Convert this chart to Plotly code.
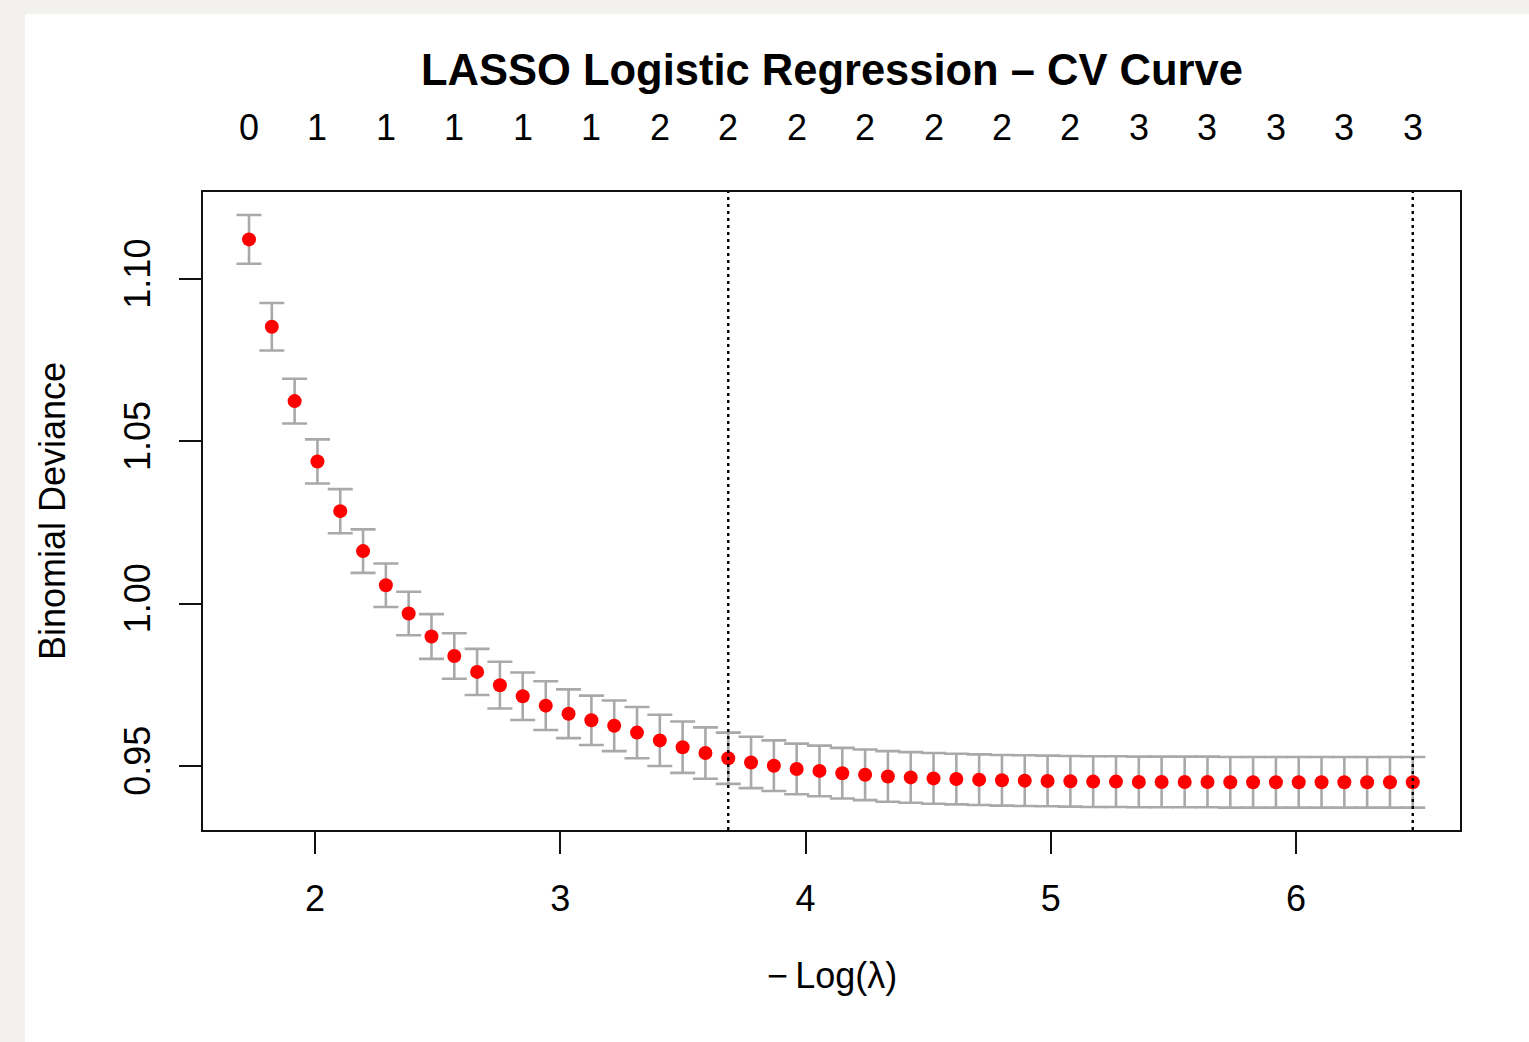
import plotly.graph_objects as go

# -log(lambda) values of the 52 fits
neg_log_lambda = [1.731, 1.824, 1.917, 2.010, 2.103, 2.196, 2.289, 2.382, 2.475, 2.568,
                  2.661, 2.754, 2.847, 2.941, 3.034, 3.127, 3.220, 3.313, 3.406, 3.499,
                  3.592, 3.685, 3.778, 3.871, 3.964, 4.057, 4.150, 4.243, 4.336, 4.429,
                  4.522, 4.615, 4.708, 4.801, 4.894, 4.987, 5.080, 5.173, 5.266, 5.359,
                  5.452, 5.546, 5.639, 5.732, 5.825, 5.918, 6.011, 6.104, 6.197, 6.290,
                  6.383, 6.476]

# mean cross-validated binomial deviance
cv_mean = [1.1122, 1.0853, 1.0624, 1.0438, 1.0285, 1.0162, 1.0057, 0.9970, 0.9899, 0.9839,
           0.9790, 0.9749, 0.9715, 0.9686, 0.9661, 0.9641, 0.9624, 0.9603, 0.9579, 0.9558,
           0.9540, 0.9524, 0.9511, 0.9501, 0.9491, 0.9485, 0.9478, 0.9473, 0.9468, 0.9465,
           0.9462, 0.9460, 0.9458, 0.9456, 0.9455, 0.9454, 0.9453, 0.9452, 0.9452, 0.9451,
           0.9451, 0.9451, 0.9451, 0.9450, 0.9450, 0.9450, 0.9450, 0.9450, 0.9450, 0.9450,
           0.9450, 0.9450]

# standard error of the deviance
cv_se = [0.0075, 0.0073, 0.0069, 0.0068, 0.0068, 0.0067, 0.0067, 0.0067, 0.0069, 0.0070,
         0.0071, 0.0072, 0.0073, 0.0075, 0.0075, 0.0076, 0.0078, 0.0079, 0.0079, 0.0079,
         0.0079, 0.0079, 0.0079, 0.0078, 0.0078, 0.0078, 0.0078, 0.0078, 0.0078, 0.0078,
         0.0078, 0.0078, 0.0078, 0.0078, 0.0078, 0.0078, 0.0078, 0.0078, 0.0078, 0.0078,
         0.0078, 0.0078, 0.0078, 0.0078, 0.0078, 0.0078, 0.0078, 0.0078, 0.0078, 0.0078,
         0.0078, 0.0078]

# number of non-zero coefficients (shown every third lambda on top)
nzero_labels = ["0", "1", "1", "1", "1", "1", "2", "2", "2", "2", "2", "2", "2",
                "3", "3", "3", "3", "3"]
nzero_step = 3

lambda_1se = 3.685
lambda_min = 6.476

x_ticks = [2, 3, 4, 5, 6]
y_ticks = [0.95, 1.00, 1.05, 1.10]
y_tick_text = ["0.95", "1.00", "1.05", "1.10"]

FONT = "Liberation Sans, Arial, Helvetica, sans-serif"
W, H = 1529, 1042
L, R, T, B = 203, 69, 192, 212
pw, ph = W - L - R, H - T - B


def px_x(p):
    return (p - L) / pw


def px_y(p):
    return (H - B - p) / ph


fig = go.Figure()

fig.add_trace(go.Scatter(
    x=neg_log_lambda, y=cv_mean, mode="markers",
    marker=dict(color="#FF0000", size=14, line=dict(width=0)),
    error_y=dict(type="data", array=cv_se, visible=True,
                 color="#A9A9A9", thickness=2.6, width=12.5),
    showlegend=False, hoverinfo="x+y",
))

for xv in (lambda_1se, lambda_min):
    fig.add_shape(type="line", xref="x", yref="paper", x0=xv, x1=xv, y0=0, y1=1,
                  line=dict(color="black", width=2.4, dash="3px,4px"))

# white panel over textured background
fig.add_shape(type="rect", xref="paper", yref="paper", layer="below",
              x0=px_x(25), x1=px_x(W + 5), y0=px_y(H + 5), y1=px_y(14),
              fillcolor="white", line=dict(width=0))

annotations = []
top_pos = neg_log_lambda[::nzero_step]
for xv, lab in zip(top_pos, nzero_labels):
    annotations.append(dict(x=xv, y=px_y(128), xref="x", yref="paper", text=lab,
                            showarrow=False, xanchor="center", yanchor="middle",
                            font=dict(family=FONT, size=36, color="black")))

annotations.append(dict(x=0.5, y=px_y(70), xref="paper", yref="paper",
                        text="<b>LASSO Logistic Regression \u2013 CV Curve</b>",
                        showarrow=False, xanchor="center", yanchor="middle",
                        font=dict(family=FONT, size=43.5, color="black")))
annotations.append(dict(x=0.5, y=px_y(975), xref="paper", yref="paper",
                        text="\u2212\u2009Log(\u03bb)",
                        showarrow=False, xanchor="center", yanchor="middle",
                        font=dict(family=FONT, size=36, color="black")))
annotations.append(dict(x=px_x(52), y=0.5, xref="paper", yref="paper",
                        text="Binomial Deviance", textangle=-90,
                        showarrow=False, xanchor="center", yanchor="middle",
                        font=dict(family=FONT, size=36, color="black")))

fig.update_layout(
    width=W, height=H,
    margin=dict(l=L, r=R, t=T, b=B, pad=0),
    paper_bgcolor="#F3F1ED",
    plot_bgcolor="white",
    font=dict(family=FONT, size=36, color="black"),
    annotations=annotations,
    xaxis=dict(range=[1.5434, 6.6686], tickvals=x_ticks, ticktext=[str(v) for v in x_ticks],
               showgrid=False, zeroline=False, showline=True, mirror=True,
               linecolor="#111111", linewidth=2.4, ticks="outside", ticklen=22, tickwidth=2.2,
               tickcolor="#111111", tickfont=dict(family=FONT, size=36, color="black"),
               ticklabelstandoff=14),
    yaxis=dict(range=[0.9303, 1.1268], tickvals=y_ticks, ticktext=y_tick_text,
               showgrid=False, zeroline=False, showline=True, mirror=True,
               linecolor="#111111", linewidth=2.4, ticks="outside", ticklen=22, tickwidth=2.2,
               tickcolor="#111111", tickangle=-90,
               tickfont=dict(family=FONT, size=36, color="black"),
               ticklabelstandoff=14),
)

fig.write_html("out.html")
